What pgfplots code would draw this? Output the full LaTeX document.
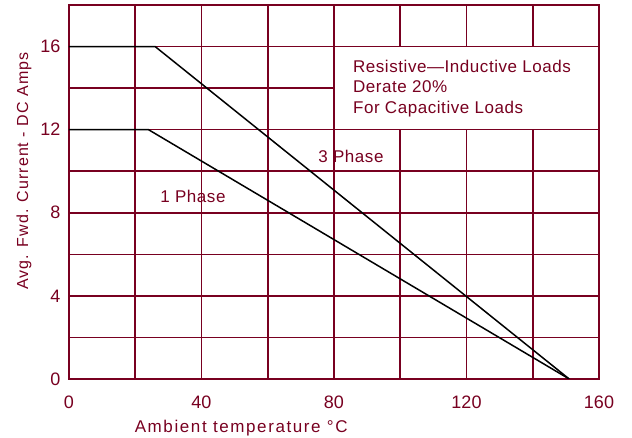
\documentclass[border=0pt]{standalone}
\usepackage{pgfplots}
\pgfplotsset{compat=1.18}
\usepackage{fontspec}
\setmainfont{Liberation Sans}
\newfontfamily\lbl[LetterSpace=3.3]{Liberation Sans}
\newfontfamily\xlbl[LetterSpace=9.4]{Liberation Sans}
\newfontfamily\ylbl[LetterSpace=6.5]{Liberation Sans}
\definecolor{mar}{RGB}{120,0,32}
\begin{document}
\begin{tikzpicture}
\useasboundingbox (-69pt,-59pt) rectangle (563pt,379pt);
\begin{axis}[
  scale only axis, width=530pt, height=374pt,
  xmin=0, xmax=160, ymin=0, ymax=18,
  xtick={0,40,...,160}, minor xtick={20,60,100,140},
  ytick={0,4,...,16}, minor ytick={2,6,10,14,18},
  grid=both,
  major grid style={mar, line width=1.6pt},
  minor grid style={mar, line width=1.6pt},
  axis line style={mar, line width=2pt},
  major tick length=0pt, minor tick length=0pt,
  tick label style={font=\fontsize{18}{20}\selectfont, text=mar},
  /pgf/number format/assume math mode=true,
  xticklabel style={anchor=center, yshift=-23pt},
  yticklabel style={anchor=east, xshift=-5pt},
  xlabel={Ambient temperature °C},
  ylabel={Avg. Fwd. Current - DC Amps},
  xlabel style={font=\xlbl\fontsize{17}{19}\selectfont, text=mar, at={(axis description cs:0.325,0)}, anchor=center, yshift=-49pt},
  ylabel style={font=\ylbl\fontsize{16}{18}\selectfont, text=mar, at={(axis description cs:-0.085,0.556)}, anchor=center},
]
\draw[mar, line width=1.6pt, fill=white] (axis cs:80,12) rectangle (axis cs:160,16);
\addplot[black, line width=1.5pt] coordinates {(0,16) (26,16) (151,0)};
\addplot[black, line width=1.5pt] coordinates {(0,12) (24,12) (151,0)};
\node[anchor=base west, text=mar, font=\lbl\fontsize{17}{19}\selectfont, inner sep=0pt] at (axis cs:85.7,14.73) {Resistive—Inductive Loads};
\node[anchor=base west, text=mar, font=\lbl\fontsize{17}{19}\selectfont, inner sep=0pt] at (axis cs:85.7,13.77) {Derate 20\%};
\node[anchor=base west, text=mar, font=\lbl\fontsize{17}{19}\selectfont, inner sep=0pt] at (axis cs:85.7,12.80) {For Capacitive Loads};
\node[anchor=base west, text=mar, font=\lbl\fontsize{17}{19}\selectfont, inner sep=0pt] at (axis cs:75.2,10.41) {3 Phase};
\node[anchor=base west, text=mar, font=\lbl\fontsize{17}{19}\selectfont, inner sep=0pt] at (axis cs:27.5,8.48) {1 Phase};
\end{axis}
\end{tikzpicture}
\end{document}
